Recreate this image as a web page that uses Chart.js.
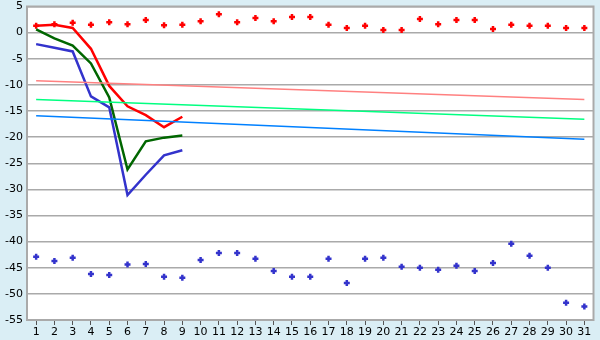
<!DOCTYPE html>
<html>
<head>
<meta charset="utf-8">
<script src="https://cdn.jsdelivr.net/npm/chart.js@4/dist/chart.umd.min.js"></script>
<style>
  html, body { margin: 0; padding: 0; background: #daeef5; }
  #box { width: 600px; height: 340px; }
</style>
</head>
<body>
<div id="box"><canvas id="chart"></canvas></div>
<script>
// days of the month
const days = [1,2,3,4,5,6,7,8,9,10,11,12,13,14,15,16,17,18,19,20,21,22,23,24,25,26,27,28,29,30,31];

// top row of red markers
const redPoints = [1.3,1.6,1.9,1.5,2.0,1.6,2.4,1.4,1.5,2.2,3.5,2.0,2.8,2.2,3.0,3.0,1.5,0.9,1.3,0.5,0.5,2.6,1.6,2.4,2.4,0.7,1.5,1.3,1.3,0.9,0.9];
// bottom row of blue markers
const bluePoints = [-42.9,-43.7,-43.1,-46.2,-46.4,-44.4,-44.3,-46.7,-46.9,-43.5,-42.2,-42.2,-43.3,-45.6,-46.7,-46.7,-43.3,-47.9,-43.3,-43.1,-44.8,-45.0,-45.4,-44.6,-45.6,-44.1,-40.4,-42.7,-45.0,-51.7,-52.4];

// the three curves, days 1..9
const lineDays = [1,2,3,4,5,6,7,8,9];
const redLine = [1.3,1.5,0.9,-3.1,-10.2,-14.1,-15.8,-18.1,-16.1];
const greenLine = [0.6,-1.1,-2.5,-5.9,-12.4,-26.2,-20.8,-20.1,-19.7];
const blueLine = [-2.2,-2.9,-3.6,-12.2,-14.3,-31.1,-27.2,-23.5,-22.5];

// trend lines, first and last day
const trendDays = [1,31];
const pinkTrend = [-9.2,-12.8];
const greenTrend = [-12.8,-16.6];
const blueTrend = [-15.9,-20.4];

const pairs = (xs, ys) => xs.map((x, i) => ({ x: x, y: ys[i] }));

const frame = {
  id: 'frame',
  beforeDraw(chart) {
    const { ctx, chartArea: a } = chart;
    ctx.save();
    ctx.fillStyle = '#daeef5';
    ctx.fillRect(0, 0, chart.width, chart.height);
    ctx.fillStyle = '#ffffff';
    ctx.fillRect(a.left, a.top, a.right - a.left, a.bottom - a.top);
    ctx.restore();
  },
  afterDraw(chart) {
    const { ctx, chartArea: a } = chart;
    ctx.save();
    ctx.strokeStyle = '#aaaaaa';
    ctx.lineWidth = 2;
    ctx.strokeRect(a.left, a.top, a.right - a.left, a.bottom - a.top);
    ctx.restore();
  }
};

function line(data, color, width) {
  return { type: 'line', data: data, borderColor: color, borderWidth: width,
    pointRadius: 0, tension: 0, fill: false };
}
function marks(data, color) {
  return { type: 'scatter', data: data, borderColor: color, backgroundColor: color,
    pointStyle: 'cross', pointRadius: 3, borderWidth: 2.5, showLine: false };
}

new Chart(document.getElementById('chart'), {
  type: 'scatter',
  data: {
    datasets: [
      line(pairs(trendDays, pinkTrend), '#ff8080', 1.5),
      line(pairs(trendDays, greenTrend), '#00ff80', 1.5),
      line(pairs(trendDays, blueTrend), '#0080ff', 1.5),
      line(pairs(lineDays, blueLine), '#3333cc', 2.5),
      line(pairs(lineDays, greenLine), '#006600', 2.5),
      line(pairs(lineDays, redLine), '#ff0000', 2.5),
      marks(pairs(days, redPoints), '#ff0000'),
      marks(pairs(days, bluePoints), '#3333cc')
    ]
  },
  options: {
    responsive: true,
    maintainAspectRatio: false,
    animation: false,
    layout: { padding: { top: 5, right: 5, left: 0, bottom: 0 } },
    plugins: { legend: { display: false }, tooltip: { enabled: false } },
    scales: {
      x: {
        type: 'linear', min: 0.5, max: 31.5,
        afterBuildTicks(scale) { scale.ticks = days.map(d => ({ value: d })); },
        afterFit(scale) { scale.height = 20; scale.paddingLeft = 0; scale.paddingRight = 0; },
        grid: { display: true, drawOnChartArea: false, drawTicks: true, tickLength: 5, color: '#555555' },
        border: { color: '#aaaaaa', width: 2 },
        ticks: { color: '#000000', padding: 1, maxRotation: 0, autoSkip: false,
          font: { family: 'DejaVu Sans', size: 11 } }
      },
      y: {
        min: -55, max: 5,
        afterFit(scale) { scale.width = 27; scale.paddingTop = 0; scale.paddingBottom = 0; },
        grid: { color: '#aaaaaa', lineWidth: 1.5, drawTicks: false },
        border: { color: '#aaaaaa', width: 2 },
        ticks: { stepSize: 5, color: '#000000', padding: 4,
          font: { family: 'DejaVu Sans', size: 11 } }
      }
    }
  },
  plugins: [frame]
});
</script>
</body>
</html>
